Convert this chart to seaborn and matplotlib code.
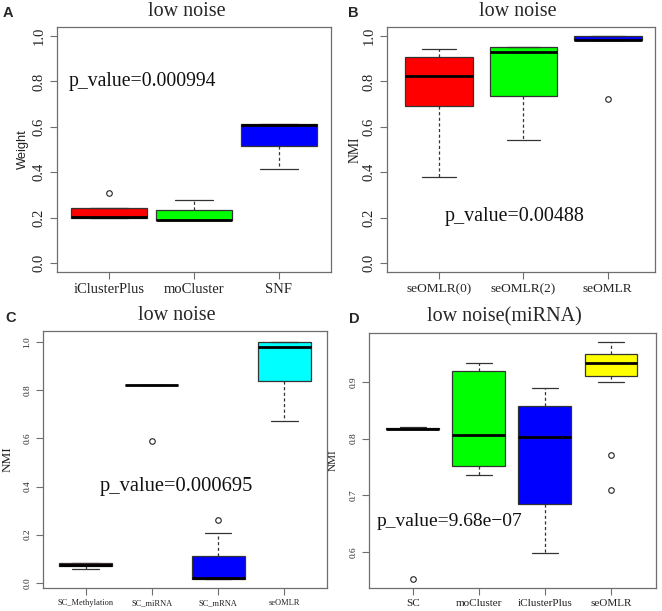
import numpy as np
import pandas as pd
import matplotlib
matplotlib.use("Agg")
import matplotlib.pyplot as plt
import seaborn as sns

sns.set_style("white")
plt.rcParams['font.family'] = ['Liberation Serif', 'DejaVu Serif']

# ---------------- data ----------------
# Panel A: low noise, Weight
a_cats = ["iClusterPlus", "moCluster", "SNF"]
a_iclusterplus = [0.200, 0.200, 0.200, 0.201, 0.202, 0.220, 0.240, 0.240, 0.309]
a_mocluster = [0.188, 0.188, 0.190, 0.232, 0.277]
a_snf = [0.415, 0.516, 0.610, 0.611, 0.611]
a_colors = ["#FF0000", "#00FF00", "#0000FF"]
a_pval = "p_value=0.000994"

# Panel B: low noise, NMI
b_cats = ["seOMLR(0)", "seOMLR(2)", "seOMLR"]
b_seomlr0 = [0.378, 0.691, 0.822, 0.906, 0.941]
b_seomlr2 = [0.543, 0.735, 0.931, 0.950, 0.950]
b_seomlr = [0.724, 0.982, 0.982, 0.983, 0.984, 0.995, 1.000, 1.000, 1.000]
b_colors = ["#FF0000", "#00FF00", "#0000FF"]
b_pval = "p_value=0.00488"

# Panel C: low noise, NMI
c_cats = ["SC_Methylation", "SC_miRNA", "SC_mRNA", "seOMLR"]
c_methylation = [0.058, 0.068, 0.075, 0.082, 0.082]
c_mirna = [0.589, 0.822, 0.822, 0.822, 0.822, 0.822, 0.822, 0.822, 0.822]
c_mrna = [0.015, 0.016, 0.016, 0.017, 0.018, 0.080, 0.112, 0.205, 0.262]
c_seomlr = [0.673, 0.839, 0.981, 1.000, 1.000]
c_colors = ["#8B0000", "#FF0000", "#0000FF", "#00FFFF"]
c_pval = "p_value=0.000695"

# Panel D: low noise(miRNA), NMI
d_cats = ["SC", "moCluster", "iClusterPlus", "seOMLR"]
d_sc = [0.552, 0.816, 0.816, 0.8165, 0.817, 0.8175, 0.818, 0.819, 0.820]
d_mocluster = [0.735, 0.751, 0.806, 0.919, 0.933]
d_iclusterplus = [0.598, 0.684, 0.802, 0.857, 0.889]
d_seomlr = [0.710, 0.771, 0.899, 0.911, 0.920, 0.925, 0.933, 0.940, 0.945,
            0.949, 0.955, 0.960, 0.970]
d_colors = ["#FF0000", "#00FF00", "#0000FF", "#FFFF00"]
d_pval = "p_value=9.68e\u221207"


def frame(cats, groups):
    rows = []
    for c, g in zip(cats, groups):
        for v in g:
            rows.append((c, v))
    return pd.DataFrame(rows, columns=["method", "value"])


W, H = 662, 611
fig = plt.figure(figsize=(W / 100, H / 100), dpi=100)


def add_ax(left, right, top, bottom):
    return fig.add_axes([left / W, (H - bottom) / H, (right - left) / W, (bottom - top) / H])


SPINE = "#6e6e6e"


def draw(ax, cats, groups, colors, width, xlim, ylim, yticks, title, title_x,
         tick_fs, xtick_fs, ylab, ylab_family, ylab_fs, ylab_x,
         pval, px, py, pfs):
    df = frame(cats, groups)
    sns.boxplot(data=df, x="method", y="value", hue="method", order=cats,
                hue_order=cats, palette=colors, legend=False, ax=ax,
                width=width, whis=1.5, saturation=1, linecolor="black",
                linewidth=0.9,
                boxprops=dict(edgecolor="#333333"),
                medianprops=dict(color="black", linewidth=2.0),
                whiskerprops=dict(color="#333333", linestyle=(0, (2.5, 2)), linewidth=0.9),
                capprops=dict(color="#333333", linewidth=0.9),
                flierprops=dict(marker="o", markerfacecolor="none",
                                markeredgecolor="#222222", markersize=4,
                                markeredgewidth=0.8))
    ax.set_xlim(*xlim)
    ax.set_ylim(*ylim)
    ax.set_yticks(yticks)
    ax.set_yticklabels([f"{t:.1f}" for t in yticks], rotation=90, va="center",
                       fontsize=tick_fs, color="#222222")
    ax.set_xticks(range(len(cats)))
    ax.set_xticklabels(cats, fontsize=xtick_fs, color="#222222")
    ax.set_xlabel("")
    ax.set_ylabel("")
    ax.tick_params(axis="both", direction="out", length=5, width=0.8,
                   color=SPINE, left=True, bottom=True, pad=3)
    for s in ax.spines.values():
        s.set_visible(True)
        s.set_color(SPINE)
        s.set_linewidth(0.9)
    ax.set_title(title, fontsize=14.5, x=title_x, pad=8)
    ax.text(ylab_x, 0.5, ylab, transform=ax.transAxes, rotation=90,
            ha="center", va="center", fontsize=ylab_fs, family=ylab_family,
            color="#222222")
    ax.text(px, py, pval, ha="center", va="center", fontsize=pfs, color="#111111")


axA = add_ax(57, 331, 27, 272)
draw(axA, a_cats, [a_iclusterplus, a_mocluster, a_snf], a_colors, 0.9,
     (-0.62, 2.62), (-0.04, 1.04), [0.0, 0.2, 0.4, 0.6, 0.8, 1.0],
     "low noise", 0.474, 10.5, 10.5, "Weight", ["Liberation Sans"], 9.3, -0.124,
     a_pval, 0.39, 0.80, 14.2)

axB = add_ax(386.7, 655, 27, 272)
draw(axB, b_cats, [b_seomlr0, b_seomlr2, b_seomlr], b_colors, 0.8,
     (-0.62, 2.56), (-0.04, 1.04), [0.0, 0.2, 0.4, 0.6, 0.8, 1.0],
     "low noise", 0.487, 10.5, 9.6, "NMI", ["Liberation Serif"], 9.9, -0.118,
     b_pval, 0.90, 0.206, 14.4)

axC = add_ax(42.7, 327.3, 331, 588)
draw(axC, c_cats, [c_methylation, c_mirna, c_mrna, c_seomlr], c_colors, 0.8,
     (-0.65, 3.65), (-0.022, 1.047), [0.0, 0.2, 0.4, 0.6, 0.8, 1.0],
     "low noise", 0.472, 6.7, 6.0, "NMI", ["Liberation Serif"], 9.5, -0.125,
     c_pval, 1.37, 0.40, 14.8)

axD = add_ax(368.7, 656, 333, 588)
draw(axD, d_cats, [d_sc, d_mocluster, d_iclusterplus, d_seomlr], d_colors, 0.8,
     (-0.666, 3.68), (0.5365, 0.986), [0.6, 0.7, 0.8, 0.9],
     "low noise(miRNA)", 0.471, 6.7, 8.0, "NMI", ["Liberation Serif"], 8.0, -0.124,
     d_pval, 0.56, 0.653, 14.0)

for lab, x, y in [("A", 3, 17), ("B", 348, 17), ("C", 5, 322), ("D", 349, 323)]:
    fig.text(x / W, 1 - y / H, lab, fontsize=10.5, fontweight="bold",
             family=["Liberation Sans"], ha="left", va="baseline")

fig.savefig("out.png", dpi=100)
